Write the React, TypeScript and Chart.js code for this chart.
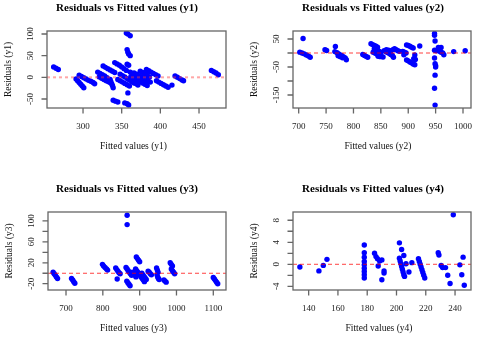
import React, { useEffect, useRef } from "react";
import { Chart, registerables } from "chart.js";
Chart.register(...registerables);

// ---- Panel 1 (y1) ----
const fitted1 = [262, 265, 268, 291, 293, 295, 297, 299, 301, 295, 298, 301, 304, 307, 310, 313, 315, 319, 322, 325, 328, 331, 321, 324, 327, 330, 333, 335, 326, 329, 332, 335, 338, 341, 335, 336, 337, 338, 339, 339, 342, 345, 341, 344, 347, 350, 353, 356, 348, 351, 354, 357, 360, 363, 366, 345, 348, 351, 354, 357, 360, 354, 357, 359, 356, 358, 361, 357, 358, 359, 361, 357, 359, 358, 361, 364, 367, 370, 373, 376, 379, 382, 362, 365, 368, 371, 374, 377, 380, 383, 366, 369, 372, 375, 378, 381, 384, 387, 363, 366, 369, 371, 374, 377, 380, 383, 386, 382, 385, 388, 391, 394, 397, 395, 398, 401, 404, 407, 410, 415, 419, 422, 425, 428, 430, 466, 469, 472, 475];
const resid1 = [24, 21, 18, -4, -8, -12, -16, -20, -24, 5, 2, -1, -4, -7, -9, -12, -15, 12, 9, 6, 3, -1, 1, -2, -5, -8, -10, -12, 26, 23, 20, 17, 14, 11, -5, -10, -15, -19, -24, -53, -55, -57, 34, 31, 28, 24, 20, 16, 7, 4, 1, -3, -6, -10, -13, -5, -8, -11, -14, -17, -20, -59, -61, -64, 102, 100, 96, 64, 58, 54, 50, 30, 28, -36, 12, 9, 6, 3, 0, -3, -6, -9, 2, -1, -4, -7, -10, -13, -16, -19, 10, 7, 4, 1, -2, -5, -8, -11, -8, -12, -15, -18, 14, 11, 8, 5, 1, 18, 15, 12, 9, 6, 3, -8, -11, -14, -17, -20, -23, -18, 3, 0, -3, -6, -8, 16, 13, 10, 6];
const xTicks1 = [300, 350, 400, 450];
const yTicks1 = [-50, 0, 50, 100];
const yLabels1 = [-50, 0, 50, 100];

// ---- Panel 2 (y2) ----
const fitted2 = [708, 702, 706, 710, 714, 718, 721, 748, 751, 767, 766, 770, 773, 776, 779, 782, 785, 787, 772, 776, 780, 817, 820, 823, 826, 832, 835, 838, 841, 844, 838, 841, 844, 847, 850, 836, 839, 842, 845, 848, 851, 854, 845, 849, 856, 859, 862, 865, 868, 871, 873, 860, 864, 868, 872, 875, 878, 881, 884, 890, 893, 896, 892, 897, 900, 903, 906, 909, 912, 897, 900, 903, 906, 909, 912, 910, 913, 921, 948, 948, 949, 948, 951, 948, 949, 950, 950, 949, 948, 949, 955, 958, 960, 957, 960, 963, 965, 983, 1004];
const resid2 = [52, 3, 0, -3, -7, -11, -15, 12, 9, 23, 5, 1, -3, -7, -10, -14, -18, -24, -10, -13, -17, -5, -9, -12, -15, 33, 30, 27, 24, 21, 15, 12, 9, 6, 3, 3, 0, -3, -6, -9, -12, -14, -12, -13, 8, 5, 2, -1, -5, -9, -15, 12, 10, 8, 12, 15, 12, 8, 6, 6, 3, 0, -6, 29, 27, 24, 21, 18, -7, -25, -28, -32, -35, -39, -42, -20, -23, 25, 70, 63, 43, 10, 8, -18, -38, -45, -50, -79, -126, -186, 20, 17, 20, 6, 3, 0, -6, 5, 8];
const xTicks2 = [700, 750, 800, 850, 900, 950, 1000];
const yTicks2 = [-150, -100, -50, 0, 50];
const yLabels2 = [-150, -50, 50];

// ---- Panel 3 (y3) ----
const fitted3 = [665, 668, 671, 674, 677, 715, 718, 721, 724, 799, 802, 806, 810, 813, 835, 838, 841, 844, 847, 839, 863, 866, 869, 872, 875, 878, 866, 866, 865, 868, 871, 874, 891, 894, 897, 900, 889, 892, 895, 898, 901, 904, 907, 910, 913, 880, 884, 887, 890, 906, 909, 912, 915, 918, 923, 926, 929, 932, 946, 948, 950, 947, 949, 951, 953, 966, 969, 972, 983, 986, 989, 986, 989, 992, 995, 1100, 1103, 1106, 1109, 1112];
const resid3 = [2, -1, -4, -7, -10, -10, -13, -16, -19, 17, 14, 11, 8, 6, 10, 7, 4, 1, -1, -11, 11, 8, 5, 2, -1, -4, 111, 93, -15, -18, -21, -24, 31, 28, 25, 22, 8, 5, 2, -1, -4, -7, -10, -13, -16, 2, -1, -4, -7, 0, -3, -6, -9, -12, 4, 2, -1, -3, 10, 6, 2, -3, -7, -10, -12, -13, -15, -17, 20, 17, 14, 8, 5, 2, -1, -8, -11, -14, -17, -20];
const xTicks3 = [700, 800, 900, 1000, 1100];
const yTicks3 = [-20, 0, 20, 40, 60, 80, 100];
const yLabels3 = [-20, 20, 60, 100];

// ---- Panel 4 (y4) ----
const fitted4 = [134, 147, 150, 152.5, 178, 178, 178, 178, 178, 178, 178, 178, 178, 185, 186, 187, 187.5, 188.5, 190, 190, 191.5, 191.5, 202, 203.5, 205, 202, 202.5, 203, 203.5, 204, 204.5, 205, 205.5, 206.5, 208.5, 210.5, 215, 215.6, 216.2, 216.8, 217.4, 218, 218.6, 219.3, 228.5, 229, 230.5, 231.5, 233.5, 235, 236.6, 238.8, 243.3, 244.6, 245.5, 246.3];
const resid4 = [-0.5, -1.2, -0.2, 0.9, 3.5, 2.1, 1.3, 0.5, -0.1, -0.7, -1.3, -1.9, -2.5, 2, 1.4, 1, -0.3, 0.6, 0.8, -2.8, -1.2, -1.6, 3.9, 2.7, 1.6, 1.1, 0.6, 0.1, -0.4, -0.9, -1.4, -1.9, -2.2, 0.1, -1.4, 0.3, 1, 0.5, 0, -0.5, -1, -1.5, -2, -2.5, 2.1, 1.7, -0.2, -0.6, -0.6, -2, -3.5, 9, -0.1, -1.9, 1.3, -3.8];
const xTicks4 = [140, 160, 180, 200, 220, 240];
const yTicks4 = [-4, -2, 0, 2, 4, 6, 8];
const yLabels4 = [-4, 0, 4, 8];

type PanelCfg = {
  name: string;
  left: number; top: number; w: number; h: number;
  box: { L: number; R: number; T: number; B: number };
  xMin: number; xMax: number; yMin: number; yMax: number;
  fitted: number[]; resid: number[];
  xTicks: number[]; yTicks: number[]; yLabels: number[];
  titleX: number; xLabX: number;
  refColor: string; refWidth: number; refDash: number[];
};

const SERIF = '"Liberation Serif", "Times New Roman", serif';

const panels: PanelCfg[] = [
  {
    name: "y1", left: 0, top: 0, w: 240, h: 168,
    box: { L: 47, R: 226, T: 31, B: 108 },
    xMin: 253.4, xMax: 484.9, yMin: -70.8, yMax: 106.9,
    fitted: fitted1, resid: resid1, xTicks: xTicks1, yTicks: yTicks1, yLabels: yLabels1,
    titleX: 127, xLabX: 133.5,
    refColor: "rgba(255,60,60,0.45)", refWidth: 2, refDash: [3, 3],
  },
  {
    name: "y2", left: 240, top: 0, w: 240, h: 168,
    box: { L: 53, R: 231, T: 31, B: 108 },
    xMin: 689.6, xMax: 1014.6, yMin: -196.4, yMax: 78.6,
    fitted: fitted2, resid: resid2, xTicks: xTicks2, yTicks: yTicks2, yLabels: yLabels2,
    titleX: 133, xLabX: 138,
    refColor: "rgba(255,0,0,0.75)", refWidth: 1, refDash: [4, 3],
  },
  {
    name: "y3", left: 0, top: 168, w: 240, h: 169,
    box: { L: 48, R: 226, T: 44, B: 122 },
    xMin: 651.1, xMax: 1134.5, yMin: -32, yMax: 117.1,
    fitted: fitted3, resid: resid3, xTicks: xTicks3, yTicks: yTicks3, yLabels: yLabels3,
    titleX: 127, xLabX: 133.5,
    refColor: "rgba(255,0,0,0.75)", refWidth: 1, refDash: [4, 3],
  },
  {
    name: "y4", left: 240, top: 168, w: 240, h: 169,
    box: { L: 53, R: 231, T: 44, B: 122 },
    xMin: 129.3, xMax: 250.9, yMin: -4.67, yMax: 9.5,
    fitted: fitted4, resid: resid4, xTicks: xTicks4, yTicks: yTicks4, yLabels: yLabels4,
    titleX: 133, xLabX: 139,
    refColor: "rgba(255,0,0,0.75)", refWidth: 1, refDash: [4, 3],
  },
];

function makePlugin(cfg: PanelCfg) {
  return {
    id: "rPlot_" + cfg.name,
    afterDatasetsDraw(chart: any) {
      const { ctx, chartArea: a, scales } = chart;
      const x = scales.x;
      const y = scales.y;
      ctx.save();
      // reference line at 0
      const y0 = y.getPixelForValue(0);
      ctx.strokeStyle = cfg.refColor;
      ctx.lineWidth = cfg.refWidth;
      ctx.setLineDash(cfg.refDash);
      ctx.beginPath();
      ctx.moveTo(a.left, y0);
      ctx.lineTo(a.right, y0);
      ctx.stroke();
      ctx.setLineDash([]);
      // box
      ctx.strokeStyle = "#666";
      ctx.lineWidth = 1.3;
      ctx.strokeRect(a.left, a.top, a.right - a.left, a.bottom - a.top);
      // ticks
      ctx.beginPath();
      for (const v of cfg.xTicks) {
        const px = x.getPixelForValue(v);
        ctx.moveTo(px, a.bottom);
        ctx.lineTo(px, a.bottom + 5.5);
      }
      for (const v of cfg.yTicks) {
        const py = y.getPixelForValue(v);
        ctx.moveTo(a.left, py);
        ctx.lineTo(a.left - 5.5, py);
      }
      ctx.stroke();
      // tick labels
      ctx.fillStyle = "#222";
      ctx.font = `9px ${SERIF}`;
      ctx.textAlign = "center";
      ctx.textBaseline = "alphabetic";
      for (const v of cfg.xTicks) {
        ctx.fillText(String(v), x.getPixelForValue(v), a.bottom + 20.5);
      }
      for (const v of cfg.yLabels) {
        const py = y.getPixelForValue(v);
        ctx.save();
        ctx.translate(a.left - 16, py);
        ctx.rotate(-Math.PI / 2);
        ctx.textBaseline = "middle";
        ctx.fillText(String(v), 0, 0);
        ctx.restore();
      }
      // axis titles
      ctx.fillStyle = "#111";
      ctx.font = `9.5px ${SERIF}`;
      ctx.textBaseline = "alphabetic";
      ctx.fillText(`Fitted values (${cfg.name})`, cfg.xLabX, a.bottom + 40.5);
      ctx.save();
      ctx.translate(a.left - 39, (a.top + a.bottom) / 2);
      ctx.rotate(-Math.PI / 2);
      ctx.textBaseline = "middle";
      ctx.fillText(`Residuals (${cfg.name})`, 0, 0);
      ctx.restore();
      // main title
      ctx.fillStyle = "#000";
      ctx.font = `bold 11px ${SERIF}`;
      ctx.textBaseline = "alphabetic";
      ctx.fillText(`Residuals vs Fitted values (${cfg.name})`, cfg.titleX, a.top - 20);
      ctx.restore();
    },
  };
}

function Panel({ cfg }: { cfg: PanelCfg }) {
  const ref = useRef<HTMLCanvasElement>(null);
  useEffect(() => {
    if (!ref.current) return;
    const points = cfg.fitted.map((f, i) => ({ x: f, y: cfg.resid[i] }));
    const chart = new Chart(ref.current, {
      type: "scatter",
      data: {
        datasets: [
          {
            data: points,
            backgroundColor: "#0000ff",
            borderColor: "#0000ff",
            borderWidth: 0,
            pointRadius: 2.7,
            pointHoverRadius: 2.7,
          },
        ],
      },
      options: {
        responsive: false,
        animation: false,
        events: [],
        layout: {
          padding: {
            left: cfg.box.L,
            right: cfg.w - cfg.box.R,
            top: cfg.box.T,
            bottom: cfg.h - cfg.box.B,
          },
        },
        scales: {
          x: { type: "linear", display: false, min: cfg.xMin, max: cfg.xMax },
          y: { type: "linear", display: false, min: cfg.yMin, max: cfg.yMax },
        },
        plugins: {
          legend: { display: false },
          title: { display: false },
          tooltip: { enabled: false },
        },
      },
      plugins: [makePlugin(cfg)],
    } as any);
    return () => chart.destroy();
  }, []);
  return (
    <canvas
      ref={ref}
      width={cfg.w}
      height={cfg.h}
      style={{ position: "absolute", left: cfg.left, top: cfg.top, width: cfg.w, height: cfg.h }}
    />
  );
}

export default function App() {
  return (
    <div
      style={{
        position: "fixed",
        left: 0,
        top: 0,
        width: 480,
        height: 337,
        background: "#fff",
        overflow: "hidden",
      }}
    >
      {panels.map((p) => (
        <Panel key={p.name} cfg={p} />
      ))}
    </div>
  );
}
